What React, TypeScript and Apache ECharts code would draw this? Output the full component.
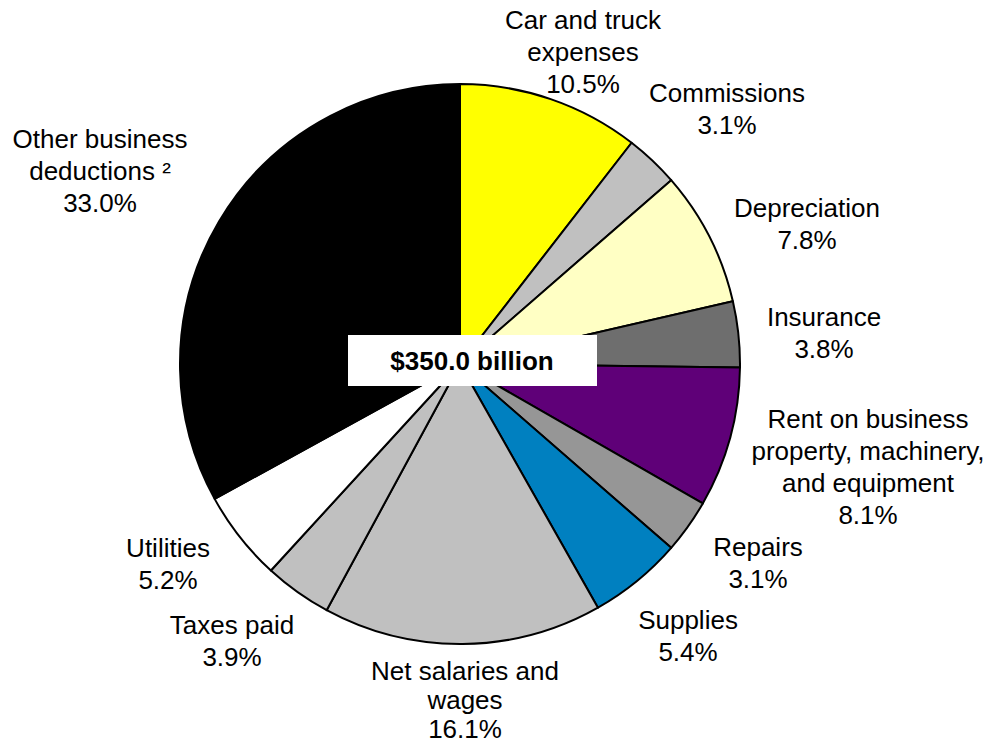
import React, { useEffect, useRef } from "react";
import * as echarts from "echarts";

const categories = [
  "Car and truck\nexpenses",
  "Commissions",
  "Depreciation",
  "Insurance",
  "Rent on business\nproperty, machinery,\nand equipment",
  "Repairs",
  "Supplies",
  "Net salaries and\nwages",
  "Taxes paid",
  "Utilities",
  "Other business\ndeductions ²",
];
const shares = [10.5, 3.1, 7.8, 3.8, 8.1, 3.1, 5.4, 16.1, 3.9, 5.2, 33.0];
const colors = [
  "#FFFF00",
  "#C0C0C0",
  "#FFFFC4",
  "#6E6E6E",
  "#5F0078",
  "#969696",
  "#0080C0",
  "#C0C0C0",
  "#C0C0C0",
  "#FFFFFF",
  "#000000",
];
const totalLabel = "$350.0 billion";

// label block centres (layout, not data)
const labelPos: [number, number][] = [
  [583, 52],
  [727, 109],
  [807, 224],
  [824, 333],
  [868, 467],
  [758, 563],
  [688, 636],
  [465, 700],
  [232, 641],
  [168, 564],
  [100, 171],
];

export default function App() {
  const ref = useRef<HTMLDivElement>(null);
  useEffect(() => {
    if (!ref.current) return;
    const chart = echarts.init(ref.current, undefined, { renderer: "svg" });
    const font = "'Liberation Sans', Arial, sans-serif";
    chart.setOption({
      animation: false,
      backgroundColor: "#FFFFFF",
      series: [
        {
          type: "pie",
          center: [460, 364],
          radius: 280,
          startAngle: 90,
          clockwise: true,
          avoidLabelOverlap: false,
          itemStyle: { borderColor: "#000000", borderWidth: 2 },
          emphasis: { disabled: true },
          label: {
            show: true,
            position: "outside",
            color: "#000000",
            fontFamily: font,
            fontSize: 26,
            lineHeight: 32,
            align: "center",
            formatter: (p: any) => `${p.name}\n${Number(p.value).toFixed(1)}%`,
          },
          labelLine: { show: false },
          labelLayout: (params: any) => {
            const pos = labelPos[params.dataIndex];
            return { x: pos[0], y: pos[1], align: "center", verticalAlign: "middle" };
          },
          data: categories.map((c, i) => ({
            name: c,
            value: shares[i],
            itemStyle: { color: colors[i] },
            label: i === 7 ? { lineHeight: 29 } : undefined,
          })),
        },
      ],
      graphic: [
        {
          type: "rect",
          shape: { x: 348, y: 335, width: 249, height: 51 },
          style: { fill: "#FFFFFF" },
          z: 100,
        },
        {
          type: "text",
          x: 472,
          y: 361,
          z: 101,
          style: {
            text: totalLabel,
            fill: "#000000",
            font: `bold 26px ${font}`,
            align: "center",
            verticalAlign: "middle",
          },
        },
      ],
    });
    return () => chart.dispose();
  }, []);
  return (
    <div
      ref={ref}
      style={{ position: "absolute", left: 0, top: 0, width: 990, height: 744 }}
    />
  );
}
